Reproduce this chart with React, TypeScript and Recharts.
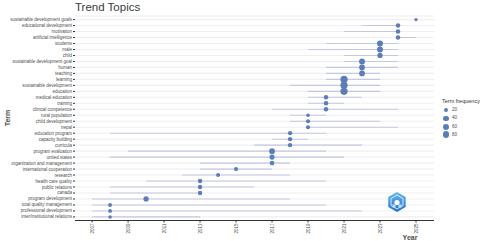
import type { ReactElement } from "react";
import {
  CartesianGrid,
  ErrorBar,
  Scatter,
  ScatterChart,
  XAxis,
  YAxis,
  ZAxis,
} from "recharts";

const terms = [
  "sustainable development goals",
  "educational development",
  "motivation",
  "artificial intelligence",
  "students",
  "male",
  "child",
  "sustainable development goal",
  "human",
  "teaching",
  "learning",
  "sustainable development",
  "education",
  "medical education",
  "training",
  "clinical competence",
  "rural population",
  "child development",
  "nepal",
  "education program",
  "capacity building",
  "curricula",
  "program evaluation",
  "united states",
  "organization and management",
  "international cooperation",
  "research",
  "health care quality",
  "public relations",
  "canada",
  "program development",
  "total quality management",
  "professional development",
  "inter/institutional relations",
];

const medianYear = [
  2025, 2024, 2024, 2024, 2023, 2023, 2023, 2022, 2022, 2022, 2021, 2021, 2021,
  2020, 2020, 2020, 2019, 2019, 2019, 2018, 2018, 2018, 2017, 2017, 2017, 2015,
  2014, 2013, 2013, 2013, 2010, 2008, 2008, 2008,
];
const firstQuartile = [
  2025, 2022, 2021, 2024, 2020, 2019, 2021, 2021, 2020, 2020, 2020, 2018, 2019,
  2019, 2019, 2017, 2018, 2018, 2019, 2008, 2017, 2016, 2009, 2008, 2013, 2013,
  2012, 2010, 2008, 2008, 2007, 2007, 2007, 2007,
];
const thirdQuartile = [
  2025, 2024, 2024, 2025, 2024, 2024, 2024, 2024, 2024, 2023, 2023, 2023, 2023,
  2022, 2021, 2024, 2020, 2023, 2024, 2020, 2019, 2022, 2020, 2021, 2018, 2017,
  2018, 2020, 2016, 2013, 2018, 2020, 2022, 2013,
];
const termFrequency = [
  10, 28, 28, 28, 55, 55, 40, 55, 50, 50, 85, 85, 85, 28, 28, 28, 14, 22, 22,
  24, 24, 24, 50, 38, 30, 22, 20, 26, 26, 26, 42, 18, 18, 14,
];

const yearTicks = [2007, 2009, 2011, 2013, 2015, 2017, 2019, 2021, 2023, 2025];
const legendValues = [20, 40, 60, 80];

const FONT = "'Liberation Sans', Arial, sans-serif";
const sizeRange: [number, number] = [4, 47];
const radiusFor = (f: number) =>
  Math.sqrt((sizeRange[0] + ((sizeRange[1] - sizeRange[0]) * f) / 100) / Math.PI);

const rows = terms.map((term, i) => ({
  term,
  row: i,
  year: medianYear[i],
  freq: termFrequency[i],
  spread: [medianYear[i] - firstQuartile[i], thirdQuartile[i] - medianYear[i]],
}));

function YearTick(props: any): ReactElement {
  const { x, y, payload } = props;
  return (
    <text
      x={x}
      y={y}
      transform={`rotate(-90 ${x} ${y})`}
      textAnchor="end"
      dominantBaseline="central"
      fontSize={4.5}
      fill="#4d4d4d"
      fontFamily={FONT}
    >
      {payload.value}
    </text>
  );
}

function TermTick(props: any): ReactElement {
  const { x, y, payload } = props;
  return (
    <text
      x={x}
      y={y}
      textAnchor="end"
      dominantBaseline="central"
      fontSize={4.5}
      fill="#4d4d4d"
      fontFamily={FONT}
    >
      {terms[payload.value] ?? ""}
    </text>
  );
}

function Logo(): ReactElement {
  return (
    <svg
      width={22}
      height={22}
      viewBox="-11 -11 22 22"
      style={{ position: "absolute", left: 386, top: 191 }}
    >
      <defs>
        <linearGradient id="lg" x1="0" y1="0" x2="0" y2="1">
          <stop offset="0" stopColor="#6ab8f0" />
          <stop offset="1" stopColor="#1f6fd1" />
        </linearGradient>
      </defs>
      <polygon points="0,-10 8.7,-5 8.7,5 0,10 -8.7,5 -8.7,-5" fill="url(#lg)" />
      <polygon
        points="0,-7 6,-3.5 6,3.5 0,7 -6,3.5 -6,-3.5"
        fill="none"
        stroke="#ffffff"
        strokeWidth={0.8}
      />
      <circle cx={0} cy={0.5} r={2.6} fill="#ffffff" />
      <rect x={-4.5} y={2.5} width={3} height={3} fill="#bfe3ff" />
      <rect x={1.5} y={2.5} width={3} height={3} fill="#bfe3ff" />
    </svg>
  );
}

export default function App(): ReactElement {
  return (
    <div
      style={{
        position: "absolute",
        left: 0,
        top: 0,
        width: 480,
        height: 241,
        background: "#ffffff",
        fontFamily: FONT,
      }}
    >
      <ScatterChart
        width={480}
        height={241}
        margin={{ top: 16, right: 46, bottom: 0, left: 0 }}
        style={{ fontFamily: FONT }}
      >
        <CartesianGrid horizontal vertical={false} stroke="#efeff1" strokeWidth={1.1} />
        <XAxis
          type="number"
          dataKey="year"
          domain={[2006.05, 2026]}
          ticks={yearTicks}
          interval={0}
          height={20.5}
          tickSize={2}
          tickMargin={1}
          tick={<YearTick />}
          tickLine={{ stroke: "#333333" }}
          axisLine={{ stroke: "#333333", strokeWidth: 1 }}
          allowDataOverflow
        />
        <YAxis
          type="number"
          dataKey="row"
          domain={[-0.6, 33.6]}
          reversed
          ticks={terms.map((_, i) => i)}
          interval={0}
          width={75}
          tickSize={2}
          tickMargin={1}
          axisLine={false}
          tickLine={{ stroke: "#333333" }}
          tick={<TermTick />}
          allowDataOverflow
        />
        <ZAxis type="number" dataKey="freq" domain={[0, 100]} range={sizeRange} />
        <Scatter data={rows} fill="#5b7db8" isAnimationActive={false}>
          <ErrorBar
            dataKey="spread"
            direction="x"
            width={0}
            stroke="#c4c8e2"
            strokeWidth={1.1}
            isAnimationActive={false}
          />
        </Scatter>
      </ScatterChart>

      <div
        style={{
          position: "absolute",
          left: 75,
          top: 0,
          fontSize: 11.5,
          color: "#3a3a3a",
          lineHeight: "14px",
        }}
      >
        Trend Topics
      </div>
      <div
        style={{
          position: "absolute",
          left: 7,
          top: 118,
          fontSize: 7,
          fontWeight: "bold",
          color: "#4d4d4d",
          transform: "translate(-50%, -50%) rotate(-90deg)",
          whiteSpace: "nowrap",
        }}
      >
        Term
      </div>
      <div
        style={{
          position: "absolute",
          left: 410,
          top: 237,
          fontSize: 7,
          fontWeight: "bold",
          color: "#4d4d4d",
          transform: "translate(-50%, -50%)",
        }}
      >
        Year
      </div>

      <div
        style={{
          position: "absolute",
          left: 442,
          top: 98,
          fontSize: 5.5,
          color: "#333333",
          whiteSpace: "nowrap",
        }}
      >
        Term frequency
      </div>
      {legendValues.map((v, i) => {
        const r = radiusFor(v);
        const cy = 110 + i * 8.3;
        return (
          <div key={v}>
            <div
              style={{
                position: "absolute",
                left: 446 - r,
                top: cy - r,
                width: r * 2,
                height: r * 2,
                borderRadius: "50%",
                background: "#5b7db8",
              }}
            />
            <div
              style={{
                position: "absolute",
                left: 452,
                top: cy - 3,
                fontSize: 4.5,
                lineHeight: "6px",
                color: "#4d4d4d",
              }}
            >
              {v}
            </div>
          </div>
        );
      })}
      <Logo />
    </div>
  );
}
